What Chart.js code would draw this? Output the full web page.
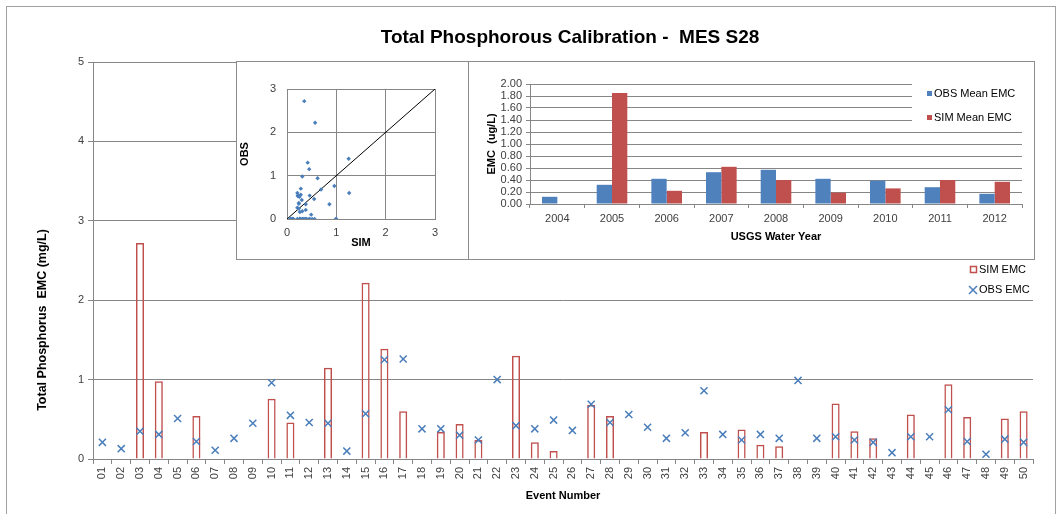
<!DOCTYPE html>
<html>
<head>
<meta charset="utf-8">
<script src="https://cdn.jsdelivr.net/npm/chart.js@4.4.1/dist/chart.umd.min.js"></script>
<style>
  html, body { margin: 0; padding: 0; background: #fff; }
  body { width: 1061px; height: 514px; position: relative; overflow: hidden; }
  #main { position: absolute; left: 0; top: 0; }
  .inset { position: absolute; border: 1px solid #8c8c8c; background: #fff; line-height: 0; }
  .inset canvas { display: block; }
  #frame { position: absolute; left: 6px; top: 6px; width: 1048px; height: 540px; border: 1px solid #a0a0a0; pointer-events: none; }
</style>
</head>
<body>
<canvas id="main" width="1061" height="514"></canvas>
<div class="inset" style="left:236px; top:61px;"><canvas id="scatter" width="231" height="197"></canvas></div>
<div class="inset" style="left:468px; top:61px;"><canvas id="yearly" width="565" height="197"></canvas></div>
<div id="frame"></div>

<script>
// event numbers along the main x axis
const events = ["01","02","03","04","05","06","07","08","09","10",
  "11","12","13","14","15","16","17","18","19","20",
  "21","22","23","24","25","26","27","28","29","30",
  "31","32","33","34","35","36","37","38","39","40",
  "41","42","43","44","45","46","47","48","49","50"];

// simulated EMC per event (mg/L), null = no simulated value
const simEmc = [null, null, 2.72, 0.98, null, 0.54, null, null, null, 0.76,
  0.46, null, 1.15, null, 2.22, 1.39, 0.60, null, 0.34, 0.44,
  0.24, null, 1.30, 0.21, 0.10, null, 0.68, 0.54, null, null,
  null, null, 0.34, null, 0.37, 0.18, 0.16, null, null, 0.70,
  0.35, 0.26, null, 0.56, null, 0.94, 0.53, null, 0.51, 0.60];

// observed EMC per event (mg/L)
const obsEmc = [0.21, 0.13, 0.35, 0.31, 0.51, 0.22, 0.11, 0.26, 0.45, 0.96,
  0.55, 0.46, 0.45, 0.10, 0.57, 1.25, 1.26, 0.38, 0.38, 0.30,
  0.24, 1.00, 0.42, 0.38, 0.49, 0.36, 0.69, 0.46, 0.56, 0.40,
  0.26, 0.33, 0.86, 0.31, 0.24, 0.31, 0.26, 0.99, 0.26, 0.28,
  0.24, 0.21, 0.08, 0.28, 0.28, 0.62, 0.22, 0.06, 0.25, 0.21];

// yearly means for the inset bar chart
const waterYears = ["2004","2005","2006","2007","2008","2009","2010","2011","2012"];
const obsMean = [0.12, 0.32, 0.42, 0.53, 0.57, 0.42, 0.39, 0.28, 0.17];
const simMean = [null, 1.85, 0.22, 0.62, 0.40, 0.19, 0.26, 0.40, 0.37];

// 1:1 line of the scatter inset
const diagonal = [0, 3];

const mainTitle = "Total Phosphorous Calibration -  MES S28";
const mainYTitle = "Total Phosphorus  EMC (mg/L)";

const FONT = '"Liberation Sans", Arial, sans-serif';
const GRID = "#868686";
const SIM_RED = "#C0504D";
const OBS_BLUE = "#4A7EBB";
const BAR_BLUE = "#4F81BD";

Chart.defaults.font.family = FONT;
Chart.defaults.font.size = 11;
Chart.defaults.color = "#404040";
Chart.defaults.animation = false;

const boldTitle = { weight: "bold", size: 11 };

// title, rotated y title and legend of the main chart
const mainDecor = {
  id: "mainDecor",
  afterDraw(chart) {
    const ctx = chart.ctx;
    ctx.save();
    ctx.fillStyle = "#000";
    ctx.textAlign = "center";
    ctx.textBaseline = "middle";
    ctx.font = "bold 19px " + FONT;
    ctx.fillText(mainTitle, 570, 38);
    ctx.font = "bold 12.5px " + FONT;
    ctx.translate(43, 320);
    ctx.rotate(-Math.PI / 2);
    ctx.fillText(mainYTitle, 0, 0);
    ctx.restore();

    const ds = chart.data.datasets;
    ctx.save();
    ctx.font = "11px " + FONT;
    ctx.fillStyle = "#000";
    ctx.textAlign = "left";
    ctx.textBaseline = "middle";
    ctx.strokeStyle = SIM_RED;
    ctx.lineWidth = 1.5;
    ctx.strokeRect(970.5, 266.5, 6, 6);
    ctx.fillText(ds[1].label, 979, 270);
    ctx.strokeStyle = OBS_BLUE;
    ctx.beginPath();
    ctx.moveTo(969, 286); ctx.lineTo(977, 294);
    ctx.moveTo(977, 286); ctx.lineTo(969, 294);
    ctx.stroke();
    ctx.fillText(ds[0].label, 979, 290);
    ctx.restore();
  }
};

new Chart(document.getElementById("main"), {
  type: "bar",
  data: {
    labels: events,
    datasets: [
      {
        type: "line",
        label: "OBS EMC",
        data: obsEmc,
        showLine: false,
        pointStyle: "crossRot",
        pointRadius: 5,
        borderColor: OBS_BLUE,
        borderWidth: 1.5,
        order: 0
      },
      {
        label: "SIM EMC",
        data: simEmc,
        backgroundColor: "rgba(255,255,255,0)",
        borderColor: SIM_RED,
        borderWidth: 1.5,
        categoryPercentage: 0.43,
        barPercentage: 1,
        order: 1
      }
    ]
  },
  options: {
    responsive: false,
    layout: { padding: { top: 62, right: 28, left: 0, bottom: 0 } },
    plugins: { legend: { display: false }, tooltip: { enabled: false } },
    scales: {
      x: {
        grid: { drawOnChartArea: false, tickLength: 5, color: GRID, offset: true },
        border: { color: GRID },
        ticks: { autoSkip: false, minRotation: 90, maxRotation: 90, padding: 3 },
        title: { display: true, text: "Event Number", font: boldTitle, color: "#000", padding: { top: 0, bottom: 11 } },
        afterFit(s) { s.height = 55; }
      },
      y: {
        min: 0,
        max: 5,
        ticks: { stepSize: 1, padding: 4 },
        grid: { color: GRID, tickLength: 5 },
        border: { color: GRID },
        afterFit(s) { s.width = 93; }
      }
    }
  },
  plugins: [mainDecor]
});

// scatter inset: observed vs simulated
const pairs = obsEmc.map((o, i) => ({ x: o, y: simEmc[i] ?? 0 }));

new Chart(document.getElementById("scatter"), {
  type: "scatter",
  data: {
    datasets: [
      {
        label: "Events",
        data: pairs,
        pointStyle: "rectRot",
        pointRadius: 2.2,
        backgroundColor: OBS_BLUE,
        borderColor: OBS_BLUE,
        borderWidth: 0
      },
      {
        type: "line",
        label: "1:1",
        data: diagonal.map(v => ({ x: v, y: v })),
        showLine: true,
        borderColor: "#000",
        borderWidth: 1,
        pointRadius: 0
      }
    ]
  },
  options: {
    responsive: false,
    layout: { padding: { top: 27, right: 33, left: 0, bottom: 0 } },
    plugins: { legend: { display: false }, tooltip: { enabled: false } },
    scales: {
      x: {
        min: 0, max: 3,
        ticks: { stepSize: 1, padding: 7 },
        grid: { color: GRID, drawTicks: false },
        border: { color: GRID },
        title: { display: true, text: "SIM", font: boldTitle, color: "#000", padding: { top: 0, bottom: 9 } },
        afterFit(s) { s.height = 40; }
      },
      y: {
        min: 0, max: 3,
        ticks: { stepSize: 1, padding: 11 },
        grid: { color: GRID, drawTicks: false },
        border: { color: GRID },
        title: { display: true, text: "OBS", font: boldTitle, color: "#000", padding: { top: 1, bottom: 0 } },
        afterFit(s) { s.width = 50; }
      }
    }
  }
});

// legend of the yearly inset, drawn on a white box over the grid
const yearlyLegend = {
  id: "yearlyLegend",
  afterDraw(chart) {
    const ctx = chart.ctx;
    ctx.save();
    ctx.fillStyle = "#fff";
    ctx.fillRect(443, 12, 118, 54);
    ctx.font = "11px " + FONT;
    ctx.textAlign = "left";
    ctx.textBaseline = "middle";
    chart.data.datasets.forEach((d, i) => {
      const y = 32 + i * 24;
      ctx.fillStyle = d.backgroundColor;
      ctx.fillRect(458, y - 3, 5, 5);
      ctx.fillStyle = "#000";
      ctx.fillText(d.label, 465, y);
    });
    ctx.restore();
  }
};

new Chart(document.getElementById("yearly"), {
  type: "bar",
  data: {
    labels: waterYears,
    datasets: [
      { label: "OBS Mean EMC", data: obsMean, backgroundColor: BAR_BLUE },
      { label: "SIM Mean EMC", data: simMean, backgroundColor: SIM_RED }
    ]
  },
  options: {
    responsive: false,
    layout: { padding: { top: 22, right: 12, left: 0, bottom: 0 } },
    datasets: { bar: { categoryPercentage: 0.56, barPercentage: 1 } },
    plugins: { legend: { display: false }, tooltip: { enabled: false } },
    scales: {
      x: {
        grid: { drawOnChartArea: false, tickLength: 4, color: GRID, offset: true },
        border: { color: GRID },
        ticks: { autoSkip: false, maxRotation: 0, padding: 4 },
        title: { display: true, text: "USGS Water Year", font: boldTitle, color: "#000", padding: { top: 0, bottom: 15 } },
        afterFit(s) { s.height = 55; }
      },
      y: {
        min: 0, max: 2,
        ticks: { stepSize: 0.2, autoSkip: false, padding: 4, callback: v => v.toFixed(2) },
        grid: { color: GRID, tickLength: 4 },
        border: { color: GRID },
        title: { display: true, text: "EMC  (ug/L)", font: boldTitle, color: "#000", padding: { top: 16, bottom: 0 } },
        afterFit(s) { s.width = 61; }
      }
    }
  },
  plugins: [yearlyLegend]
});
</script>
</body>
</html>
